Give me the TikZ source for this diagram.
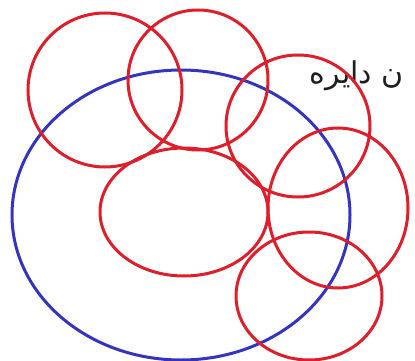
\documentclass[tikz,border=0pt]{standalone}
\usepackage{fontspec}
\newfontfamily\arabicfont[Script=Arabic]{DejaVu Sans}
\TeXXeTstate=1
\definecolor{cred}{RGB}{222,30,42}
\definecolor{cblue}{RGB}{52,52,192}
\definecolor{ctext}{RGB}{30,30,30}
\begin{document}
\begin{tikzpicture}[x=1pt,y=-1pt,
  redring/.style={draw=cred,line width=3pt},
  bluering/.style={draw=cblue,line width=3pt}]
\useasboundingbox (0,0) rectangle (415,361);
\node[anchor=base east,inner sep=0pt,text=ctext,font=\arabicfont\fontsize{30}{34}\selectfont] (lbl) at (404,84) {\beginR ن دایره\endR};
\path[bluering] (181,215) ellipse [x radius=169,y radius=145];
\path[redring] (105,90) ellipse [x radius=77,y radius=77];
\path[redring] (198,80) ellipse [x radius=70,y radius=70];
\path[redring] (298,126) ellipse [x radius=72,y radius=71];
\path[redring] (338,208) ellipse [x radius=70,y radius=80];
\path[redring] (309,296) ellipse [x radius=73,y radius=64];
\path[redring] (184,212) ellipse [x radius=84,y radius=64];
\end{tikzpicture}
\end{document}
